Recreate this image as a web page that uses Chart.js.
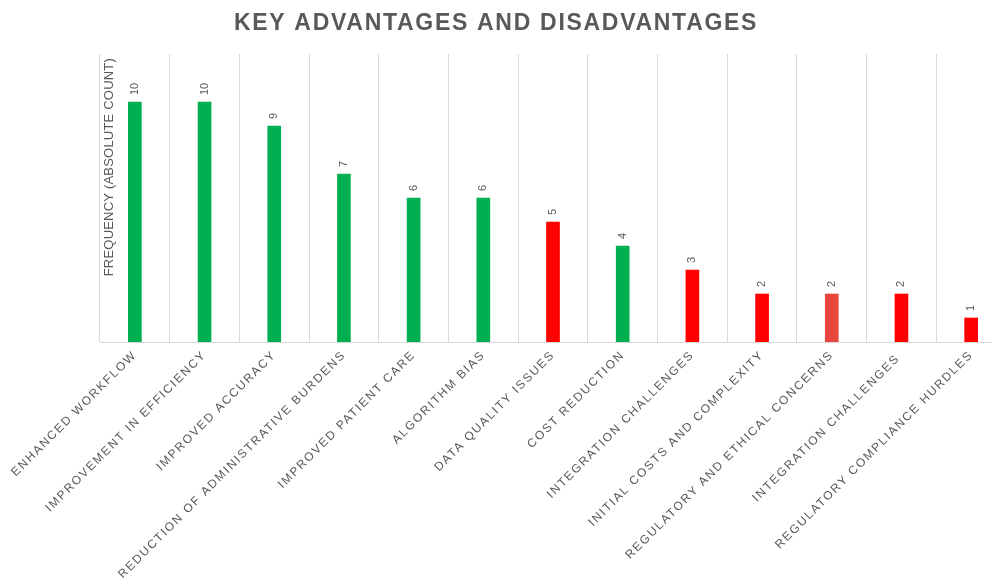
<!DOCTYPE html>
<html>
<head>
<meta charset="utf-8">
<script src="https://cdn.jsdelivr.net/npm/chart.js@4/dist/chart.umd.min.js"></script>
<style>
  html, body { margin: 0; padding: 0; background: #fff; overflow: hidden; }
  /* plot area in the reference runs past the right edge of the picture */
  #wrap { width: 1006px; height: 578px; }
</style>
</head>
<body>
<div id="wrap"><canvas id="chart"></canvas></div>
<script>
(function() {
    'use strict';

    var categories = [
        'ENHANCED WORKFLOW',
        'IMPROVEMENT IN EFFICIENCY',
        'IMPROVED ACCURACY',
        'REDUCTION OF ADMINISTRATIVE BURDENS',
        'IMPROVED PATIENT CARE',
        'ALGORITHM BIAS',
        'DATA QUALITY ISSUES',
        'COST REDUCTION',
        'INTEGRATION CHALLENGES',
        'INITIAL COSTS AND COMPLEXITY',
        'REGULATORY AND ETHICAL CONCERNS',
        'INTEGRATION CHALLENGES ',
        'REGULATORY COMPLIANCE HURDLES'
    ];
    var counts = [10, 10, 9, 7, 6, 6, 5, 4, 3, 2, 2, 2, 1];
    var barColors = [
        '#00B050', '#00B050', '#00B050', '#00B050', '#00B050', '#00B050',
        '#FF0000', '#00B050', '#FF0000', '#FF0000', '#E8453C', '#FF0000', '#FF0000'
    ];
    var yTicks = [0, 12];

    var TEXT = '#595959';
    var GRID = '#D9D9D9';
    var FONT = '"Liberation Sans", Arial, sans-serif';
    var VIEW_W = 992;

    // letter spacing for the spaced-out axis labels
    var spacingPlugin = {
        id: 'spacing',
        beforeUpdate: function(chart) { chart.ctx.letterSpacing = '1.7px'; },
        beforeDraw: function(chart) { chart.ctx.letterSpacing = '1.7px'; },
        afterDraw: function(chart) { chart.ctx.letterSpacing = '0px'; }
    };

    // title centred on the visible picture
    var titlePlugin = {
        id: 'bigTitle',
        afterDraw: function(chart) {
            var ctx = chart.ctx;
            ctx.save();
            ctx.letterSpacing = '1.7px';
            ctx.font = 'bold 23px ' + FONT;
            ctx.fillStyle = TEXT;
            ctx.textAlign = 'center';
            ctx.textBaseline = 'middle';
            ctx.fillText('KEY ADVANTAGES AND DISADVANTAGES', VIEW_W / 2, 24);
            ctx.restore();
        }
    };

    // value labels above bars, rotated
    var valueLabels = {
        id: 'valueLabels',
        afterDatasetsDraw: function(chart) {
            var ctx = chart.ctx;
            var meta = chart.getDatasetMeta(0);
            ctx.save();
            ctx.letterSpacing = '0px';
            ctx.font = '11px ' + FONT;
            ctx.fillStyle = TEXT;
            ctx.textAlign = 'left';
            ctx.textBaseline = 'middle';
            meta.data.forEach(function(bar, i) {
                ctx.save();
                ctx.translate(bar.x, bar.y - 7);
                ctx.rotate(-Math.PI / 2);
                ctx.fillText(String(counts[i]), 0, 0);
                ctx.restore();
            });
            ctx.restore();
        }
    };

    // axis title sits inside the plot area in the reference
    var yTitle = {
        id: 'yTitle',
        afterDatasetsDraw: function(chart) {
            var ctx = chart.ctx;
            var area = chart.chartArea;
            ctx.save();
            ctx.letterSpacing = '0.2px';
            ctx.font = '13px ' + FONT;
            ctx.fillStyle = TEXT;
            ctx.translate(area.left + 9, area.top + 4);
            ctx.rotate(-Math.PI / 2);
            ctx.textAlign = 'right';
            ctx.textBaseline = 'middle';
            ctx.fillText('FREQUENCY (ABSOLUTE COUNT)', 0, 0);
            ctx.restore();
        }
    };

    new Chart(document.getElementById('chart'), {
        type: 'bar',
        data: {
            labels: categories,
            datasets: [{
                data: counts,
                backgroundColor: barColors,
                borderWidth: 0,
                barThickness: 13
            }]
        },
        options: {
            responsive: true,
            maintainAspectRatio: false,
            animation: false,
            layout: { padding: { left: 0, right: 0, top: 54, bottom: 0 } },
            plugins: {
                legend: { display: false },
                tooltip: { enabled: false },
                title: { display: false }
            },
            scales: {
                x: {
                    grid: { color: GRID, lineWidth: 1, drawTicks: false },
                    border: { display: true, color: GRID, width: 1 },
                    ticks: {
                        color: TEXT,
                        font: { family: FONT, size: 12 },
                        maxRotation: 45,
                        minRotation: 45,
                        autoSkip: false,
                        padding: 6
                    },
                    afterFit: function(scale) { scale.height = 236; }
                },
                y: {
                    min: yTicks[0],
                    max: yTicks[1],
                    grid: { display: false },
                    border: { display: false },
                    ticks: { display: false },
                    afterFit: function(scale) { scale.width = 100; }
                }
            }
        },
        plugins: [spacingPlugin, valueLabels, yTitle, titlePlugin]
    });
})();
</script>
</body>
</html>
